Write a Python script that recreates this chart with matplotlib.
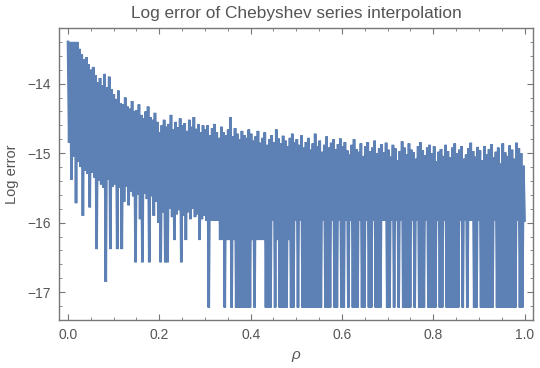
import numpy as np
import matplotlib
matplotlib.use("Agg")
import matplotlib.pyplot as plt
from matplotlib.ticker import MultipleLocator

# local maxima of the log error, one per column (rho step 0.005)
upper_vals = [
    -13.40, -13.40, -13.40, -13.40, -13.40, -13.50, -13.58, -13.65, -13.62, -13.72,
    -13.80, -13.76, -13.88, -13.98, -13.92, -14.02, -13.86, -14.05, -13.90, -14.08,
    -14.15, -14.22, -14.10, -14.28, -14.30, -14.20, -14.33, -14.36, -14.25, -14.40,
    -14.38, -14.30, -14.45, -14.50, -14.40, -14.33, -14.48, -14.52, -14.42, -14.55,
    -14.70, -14.60, -14.52, -14.62, -14.58, -14.45, -14.66, -14.55, -14.63, -14.50,
    -14.60, -14.57, -14.68, -14.52, -14.62, -14.48, -14.65, -14.58, -14.70, -14.60,
    -14.66, -14.60, -14.74, -14.64, -14.58, -14.70, -14.78, -14.62, -14.70, -14.74,
    -14.66, -14.48, -14.76, -14.64, -14.72, -14.80, -14.68, -14.74, -14.78, -14.66,
    -14.72, -14.82, -14.76, -14.68, -14.85, -14.78, -14.70, -14.88, -14.80, -14.74,
    -14.84, -14.66, -14.79, -14.86, -14.75, -14.82, -14.90, -14.78, -14.72, -14.84,
    -14.80, -14.88, -14.74, -14.92, -14.84, -14.78, -14.95, -14.86, -14.72, -14.90,
    -14.82, -14.98, -14.88, -14.76, -14.92, -14.85, -14.80, -14.94, -14.87, -14.79,
    -14.90, -14.84, -14.96, -15.02, -14.88, -14.80, -14.94, -14.98, -14.86, -15.04,
    -14.90, -14.84, -14.97, -14.92, -14.82, -15.00, -14.93, -14.87, -14.99, -14.85,
    -14.95, -15.05, -14.88, -14.93, -15.10, -14.97, -14.83, -14.92, -15.02, -14.86,
    -14.95, -14.99, -15.08, -14.90, -14.84, -14.96, -15.03, -14.92, -14.88, -15.00,
    -14.90, -15.12, -14.98, -14.94, -15.04, -14.88, -14.97, -15.06, -14.92, -14.86,
    -15.00, -14.95, -14.90, -15.08, -15.02, -14.93, -14.85, -14.97, -15.05, -14.91,
    -14.96, -15.10, -14.90, -15.02, -14.94, -14.87, -15.06, -14.98, -14.92, -15.15,
    -14.86, -14.99, -15.04, -14.89, -14.95, -15.08, -14.85, -14.93, -15.00, -15.18,
]

# local minima, one per column, half a step to the right of each maximum
lower_vals = [
    -14.85, -15.38, -15.05, -15.72, -15.12, -15.20, -15.90, -15.25, -15.30, -15.78,
    -15.28, -15.35, -16.38, -15.40, -15.45, -15.50, -16.85, -15.38, -16.38, -15.48,
    -15.45, -16.38, -15.50, -16.38, -15.70, -15.48, -15.75, -15.55, -15.62, -16.57,
    -15.60, -15.95, -16.57, -15.58, -15.66, -16.57, -15.62, -15.90, -15.70, -16.00,
    -16.57, -15.85, -16.57, -16.57, -15.80, -15.92, -16.25, -15.88, -15.82, -16.57,
    -15.90, -16.25, -15.85, -15.95, -15.80, -15.92, -15.88, -16.25, -15.95, -15.90,
    -15.97, -17.22, -15.97, -15.97, -15.97, -15.97, -16.25, -16.25, -17.22, -16.25,
    -16.25, -17.22, -16.25, -17.22, -17.22, -17.22, -17.22, -17.22, -17.22, -17.22,
    -16.25, -17.22, -16.25, -16.25, -16.25, -16.25, -17.22, -17.22, -17.22, -15.97,
    -17.22, -16.25, -17.22, -17.22, -17.22, -17.22, -16.25, -17.22, -17.22, -15.97,
    -17.22, -15.97, -17.22, -17.22, -17.22, -17.22, -17.22, -17.22, -17.22, -17.22,
    -17.22, -15.97, -17.22, -17.22, -17.22, -15.97, -17.22, -17.22, -15.97, -17.22,
    -17.22, -15.97, -17.22, -15.97, -17.22, -17.22, -17.22, -15.97, -17.22, -17.22,
    -15.97, -17.22, -17.22, -15.97, -17.22, -17.22, -17.22, -15.97, -15.97, -17.22,
    -17.22, -15.97, -17.22, -15.97, -17.22, -15.97, -17.22, -17.22, -17.22, -17.22,
    -15.97, -17.22, -15.97, -17.22, -17.22, -17.22, -15.97, -17.22, -17.22, -17.22,
    -17.22, -15.97, -17.22, -17.22, -15.97, -17.22, -17.22, -17.22, -17.22, -17.22,
    -17.22, -15.97, -17.22, -15.97, -17.22, -15.97, -15.97, -17.22, -17.22, -15.97,
    -17.22, -17.22, -17.22, -17.22, -17.22, -17.22, -15.97, -17.22, -17.22, -17.22,
    -17.22, -17.22, -17.22, -17.22, -17.22, -17.22, -15.97, -17.22, -17.22, -15.97,
]

x_ticks = [0.0, 0.2, 0.4, 0.6, 0.8, 1.0]
y_ticks = [-17, -16, -15, -14]

line_col = "#5e81b5"
text_col = "#555555"
frame_col = "#777777"

n = len(upper_vals)
rho = np.linspace(0, 1, 2 * n)
log_err = np.empty(2 * n)
log_err[0::2] = upper_vals
log_err[1::2] = lower_vals

plt.rcParams["font.family"] = ["Liberation Sans", "DejaVu Sans"]

fig = plt.figure(figsize=(5.4, 3.68), dpi=100)
ax = fig.add_axes([0.1093, 0.1304, 0.8778, 0.7935])

ax.plot(rho, log_err, color=line_col, lw=1.9, solid_joinstyle="miter")

ax.set_xlim(-0.0197, 1.0186)
ax.set_ylim(-17.40, -13.20)
ax.set_xticks(x_ticks)
ax.set_xticklabels(["%.1f" % t for t in x_ticks])
ax.set_yticks(y_ticks)
ax.set_yticklabels(["\u2212%d" % abs(t) for t in y_ticks])
ax.xaxis.set_minor_locator(MultipleLocator(0.05))
ax.yaxis.set_minor_locator(MultipleLocator(0.2))

ax.tick_params(which="both", direction="in", top=True, right=True,
               color=frame_col, labelcolor=text_col, labelsize=10)
ax.tick_params(which="major", length=4.5, width=0.8, pad=6)
ax.tick_params(which="minor", length=2.5, width=0.6)
for s in ax.spines.values():
    s.set_color(frame_col)
    s.set_linewidth(1.0)

ax.set_title("Log error of Chebyshev series interpolation", color=text_col,
             fontsize=12.4, pad=7)
ax.set_xlabel("\u03c1", color=text_col, fontsize=11, style="italic", labelpad=4)
ax.set_ylabel("Log error", color=text_col, fontsize=10.5, labelpad=6)

fig.savefig("out.png", dpi=100)
